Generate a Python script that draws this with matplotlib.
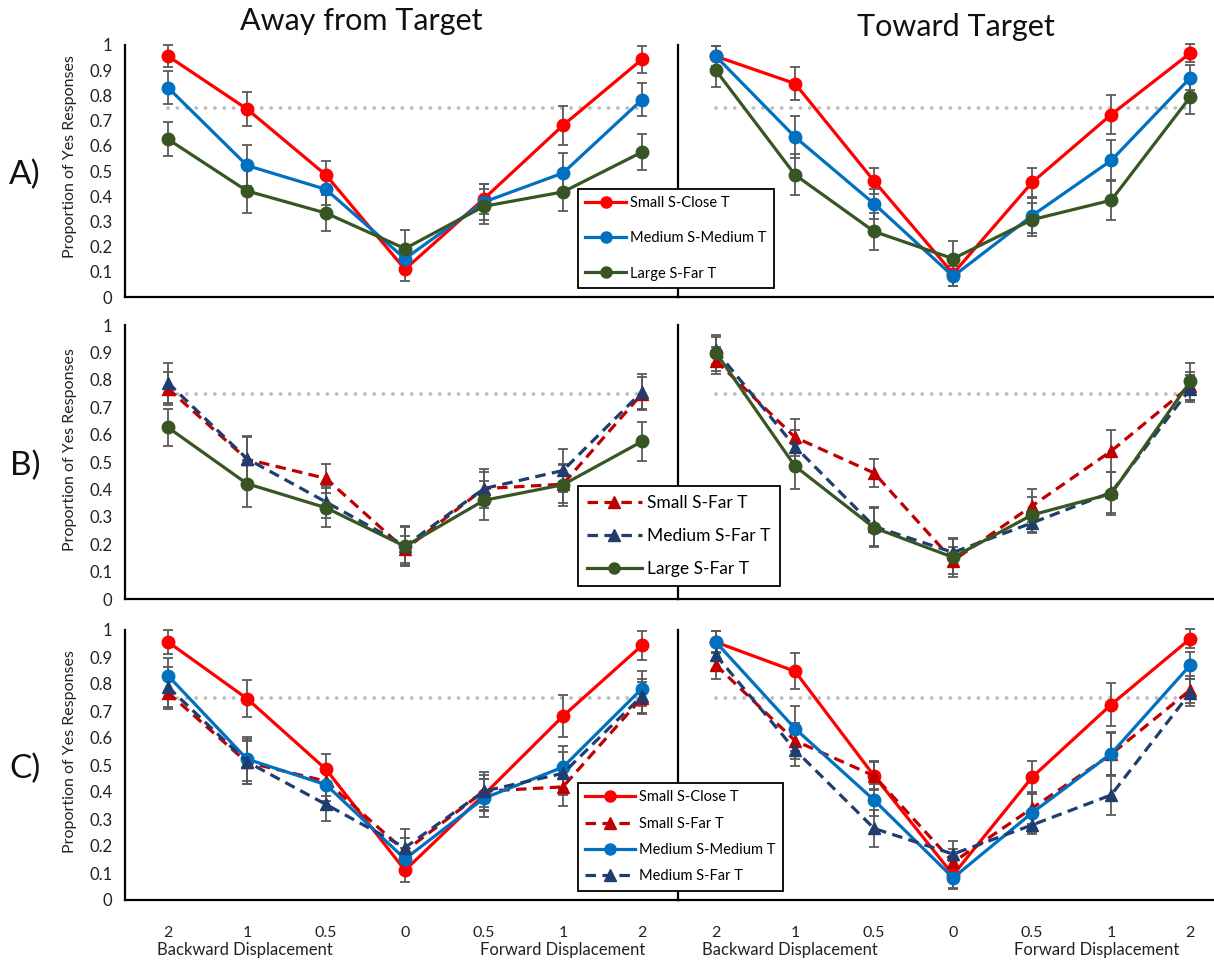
import matplotlib.pyplot as plt
from matplotlib.lines import Line2D

plt.rcParams["font.family"] = ["Lato", "DejaVu Sans"]

# Displacement categories (backward 2 .. 0 .. forward 2)
displacement_labels = ["2", "1", "0.5", "0", "0.5", "1", "2"]
positions = list(range(len(displacement_labels)))
threshold = 0.75

# Proportion of "yes" responses, moving away from the target
away_small_close = [0.956, 0.746, 0.484, 0.110, 0.390, 0.681, 0.943]
away_small_close_err = [0.045, 0.068, 0.055, 0.045, 0.060, 0.078, 0.053]
away_medium_medium = [0.831, 0.522, 0.427, 0.152, 0.377, 0.492, 0.783]
away_medium_medium_err = [0.066, 0.083, 0.060, 0.040, 0.070, 0.080, 0.066]
away_large_far = [0.626, 0.421, 0.333, 0.192, 0.360, 0.417, 0.575]
away_large_far_err = [0.068, 0.086, 0.071, 0.073, 0.070, 0.076, 0.072]
away_small_far = [0.768, 0.510, 0.440, 0.181, 0.403, 0.419, 0.749]
away_small_far_err = [0.060, 0.080, 0.053, 0.050, 0.060, 0.070, 0.060]
away_medium_far = [0.789, 0.512, 0.354, 0.194, 0.403, 0.469, 0.756]
away_medium_far_err = [0.074, 0.084, 0.060, 0.070, 0.070, 0.080, 0.064]

# Proportion of "yes" responses, moving toward the target
toward_small_close = [0.955, 0.847, 0.460, 0.093, 0.455, 0.724, 0.968]
toward_small_close_err = [0.040, 0.067, 0.053, 0.050, 0.058, 0.078, 0.035]
toward_medium_medium = [0.955, 0.635, 0.370, 0.082, 0.323, 0.542, 0.870]
toward_medium_medium_err = [0.040, 0.082, 0.060, 0.040, 0.070, 0.082, 0.050]
toward_large_far = [0.899, 0.485, 0.260, 0.152, 0.307, 0.384, 0.794]
toward_large_far_err = [0.066, 0.082, 0.072, 0.070, 0.065, 0.079, 0.069]
toward_small_far = [0.870, 0.590, 0.460, 0.140, 0.340, 0.540, 0.778]
toward_small_far_err = [0.050, 0.067, 0.050, 0.050, 0.060, 0.078, 0.050]
toward_medium_far = [0.907, 0.556, 0.265, 0.170, 0.278, 0.389, 0.768]
toward_medium_far_err = [0.050, 0.060, 0.070, 0.050, 0.035, 0.075, 0.050]

STYLES = {
    "Small S-Close T": dict(color="#FF0000", marker="o", ls="-"),
    "Medium S-Medium T": dict(color="#0070C0", marker="o", ls="-"),
    "Large S-Far T": dict(color="#375623", marker="o", ls="-"),
    "Small S-Far T": dict(color="#C00000", marker="^", ls="--"),
    "Medium S-Far T": dict(color="#1F3D6E", marker="^", ls="--"),
}

AWAY = {
    "Small S-Close T": (away_small_close, away_small_close_err),
    "Medium S-Medium T": (away_medium_medium, away_medium_medium_err),
    "Large S-Far T": (away_large_far, away_large_far_err),
    "Small S-Far T": (away_small_far, away_small_far_err),
    "Medium S-Far T": (away_medium_far, away_medium_far_err),
}
TOWARD = {
    "Small S-Close T": (toward_small_close, toward_small_close_err),
    "Medium S-Medium T": (toward_medium_medium, toward_medium_medium_err),
    "Large S-Far T": (toward_large_far, toward_large_far_err),
    "Small S-Far T": (toward_small_far, toward_small_far_err),
    "Medium S-Far T": (toward_medium_far, toward_medium_far_err),
}

W, H = 1214, 966
fig = plt.figure(figsize=(W / 100, H / 100), dpi=100)


def px_axes(x0, y0, x1, y1):
    return fig.add_axes([x0 / W, 1 - y1 / H, (x1 - x0) / W, (y1 - y0) / H])


def style_kwargs(name):
    s = STYLES[name]
    kw = dict(color=s["color"], marker=s["marker"], linewidth=2.3, markersize=9)
    if s["ls"] == "--":
        kw["linestyle"] = (0, (3.3, 2.0))
    else:
        kw["linestyle"] = "-"
    return kw


def draw_panel(ax, data, names, xlim, left=True, bottom_labels=False):
    ax.plot([0, 6], [threshold, threshold], color="#BFBFBF", linewidth=2.8,
            linestyle=(0, (0.01, 2.4)), dash_capstyle="round", zorder=1)
    for name in names:
        vals, err = data[name]
        ax.errorbar(positions, vals, yerr=err, fmt="none", ecolor="#595959",
                    elinewidth=1.3, capsize=3.5, capthick=1.3, zorder=2, clip_on=False)
        ax.plot(positions, vals, zorder=3, clip_on=False, **style_kwargs(name))
    ax.set_xlim(*xlim)
    ax.set_ylim(0, 1)
    for side in ("top", "right"):
        ax.spines[side].set_visible(False)
    for side in ("left", "bottom"):
        ax.spines[side].set_linewidth(1.6)
    ax.set_facecolor("none")
    if left:
        ax.set_yticks([i / 10 for i in range(11)])
        ax.set_yticklabels(["0"] + [f"{i / 10:.1f}" for i in range(1, 10)] + ["1"],
                           fontsize=12, color="#222222")
    else:
        ax.set_yticks([])
    ax.set_xticks(positions)
    if bottom_labels:
        ax.set_xticklabels(displacement_labels, fontsize=11.5, color="#222222")
    else:
        ax.set_xticklabels([])
    ax.tick_params(axis="y", length=0, pad=9)
    ax.tick_params(axis="x", length=0, pad=19)


rows = [
    ("A)", (45, 297), ["Small S-Close T", "Medium S-Medium T", "Large S-Far T"]),
    ("B)", (325, 599), ["Small S-Far T", "Medium S-Far T", "Large S-Far T"]),
    ("C)", (630, 900), ["Small S-Close T", "Small S-Far T", "Medium S-Medium T", "Medium S-Far T"]),
]

label_centers = [157, 450, 752]
for r, (tag, (y0, y1), names) in enumerate(rows):
    last = r == len(rows) - 1
    ax_l = px_axes(125, y0, 678, y1)
    draw_panel(ax_l, AWAY, names, (-0.544, 6.456), left=True, bottom_labels=last)
    ax_r = px_axes(678, y0, 1214, y1)
    draw_panel(ax_r, TOWARD, names, (-0.48, 6.30), left=False, bottom_labels=last)
    fig.text(70 / W, 1 - label_centers[r] / H, "Proportion of Yes Responses",
             rotation=90, ha="center", va="center", fontsize=11.5, color="#222222")
    fig.text(25 / W, 1 - ((y0 + y1) / 2 + 4) / H, tag, ha="center", va="center",
             fontsize=24, color="#111111")

# legends sit across the divider between the two panels
legend_specs = [
    (rows[0][2], 189, 10.5, 2.8, 1.45),
    (rows[1][2], 486, 12.5, 3.2, 1.0),
    (rows[2][2], 783, 10.5, 3.4, 0.85),
]
for names, top, fs, hl, sp in legend_specs:
    handles = [Line2D([], [], **style_kwargs(n)) for n in names]
    for h in handles:
        h.set_markersize(8)
    leg = fig.legend(handles, names, loc="upper left",
                     bbox_to_anchor=(578 / W, 1 - top / H), borderaxespad=0,
                     fontsize=fs, handlelength=hl, labelspacing=sp, handletextpad=0.3,
                     frameon=True, fancybox=False, edgecolor="black", framealpha=1,
                     borderpad=0.5)
    leg.get_frame().set_linewidth(1.3)

fig.text(361 / W, 1 - 21 / H, "Away from Target", ha="center", va="center",
         fontsize=22, color="#111111")
fig.text(956 / W, 1 - 27 / H, "Toward Target", ha="center", va="center",
         fontsize=22, color="#111111")

for x, txt in [(245, "Backward Displacement"), (563, "Forward Displacement"),
               (790, "Backward Displacement"), (1097, "Forward Displacement")]:
    fig.text(x / W, 1 - 950 / H, txt, ha="center", va="center", fontsize=12,
             color="#222222")

fig.savefig("out.png", dpi=100)
